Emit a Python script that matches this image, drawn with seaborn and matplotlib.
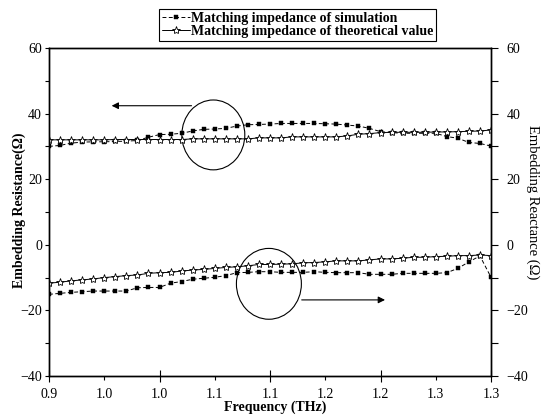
import matplotlib
matplotlib.use("Agg")
import matplotlib.pyplot as plt
from matplotlib.patches import Ellipse
from matplotlib.ticker import MultipleLocator
import seaborn as sns

# ---- data ----
FREQ = [0.90, 0.91, 0.92, 0.93, 0.94, 0.95, 0.96, 0.97, 0.98, 0.99,
        1.00, 1.01, 1.02, 1.03, 1.04, 1.05, 1.06, 1.07, 1.08, 1.09,
        1.10, 1.11, 1.12, 1.13, 1.14, 1.15, 1.16, 1.17, 1.18, 1.19,
        1.20, 1.21, 1.22, 1.23, 1.24, 1.25, 1.26, 1.27, 1.28, 1.29, 1.30]

# embedding resistance (left axis)
RES_SIM = [30.0, 30.3, 31.0, 31.3, 31.4, 31.4, 31.5, 31.6, 31.8, 32.8,
           33.6, 33.7, 34.0, 34.7, 35.2, 35.3, 35.5, 36.2, 36.6, 36.7,
           36.8, 37.0, 37.0, 37.0, 37.0, 36.9, 36.8, 36.5, 36.2, 35.5,
           34.5, 34.2, 34.0, 34.0, 34.0, 34.0, 33.0, 32.5, 31.2, 30.9, 30.1]
RES_THEO = [32.0, 32.0, 32.0, 32.0, 32.0, 32.0, 32.1, 32.1, 32.1, 32.1,
            32.1, 32.1, 32.1, 32.3, 32.3, 32.3, 32.3, 32.3, 32.3, 32.6,
            32.6, 32.6, 32.9, 32.9, 32.9, 32.9, 32.9, 33.2, 33.7, 33.9,
            34.2, 34.3, 34.3, 34.3, 34.3, 34.4, 34.4, 34.5, 34.6, 34.7, 35.0]

# embedding reactance (right axis)
REA_SIM = [-15.1, -14.8, -14.5, -14.3, -14.1, -14.1, -14.1, -14.1, -13.1, -13.0,
           -13.0, -11.7, -11.2, -10.5, -10.2, -9.9, -9.4, -8.5, -8.4, -8.2,
           -8.2, -8.4, -8.4, -8.4, -8.2, -8.4, -8.5, -8.5, -8.5, -9.0,
           -9.0, -9.0, -8.7, -8.7, -8.7, -8.7, -8.5, -7.2, -5.2, -3.4, -9.9]
REA_THEO = [-11.7, -11.4, -11.0, -10.7, -10.4, -10.0, -9.7, -9.4, -9.2, -8.7,
            -8.5, -8.4, -8.0, -7.7, -7.5, -7.2, -6.9, -6.7, -6.4, -6.0,
            -6.0, -5.9, -5.8, -5.5, -5.4, -5.2, -4.9, -4.9, -4.9, -4.6,
            -4.3, -4.3, -4.1, -3.8, -3.8, -3.6, -3.5, -3.3, -3.3, -3.1, -3.3]

X_MAJOR = [0.9, 1.0, 1.1, 1.2, 1.3]
X_MAJOR_LABELS = ["0.9", "1.0", "1.1", "1.2", "1.3"]
X_MINOR = [0.95, 1.05, 1.15, 1.25]
X_MINOR_LABELS = ["1.0", "1.1", "1.2", "1.3"]
Y_TICKS = [-40, -20, 0, 20, 40, 60]

LEG_SIM = "Matching impedance of simulation"
LEG_THEO = "Matching impedance of theoretical value"

# ---- style ----
sns.set_style("ticks")
plt.rcParams["font.family"] = ["Liberation Serif", "DejaVu Serif"]
plt.rcParams.update({"axes.edgecolor": "black", "xtick.color": "black",
                     "ytick.color": "black", "text.color": "black",
                     "axes.labelcolor": "black"})

W, H = 543, 415
fig = plt.figure(figsize=(W / 100, H / 100), dpi=100)
ax = fig.add_axes([49 / W, 1 - 376 / H, 442 / W, 328 / H])
ax2 = ax.twinx()

sim_kw = dict(color="black", lw=0.7, linestyle=(0, (4, 2.5)), marker="s",
              markersize=2.2, markerfacecolor="black", markeredgecolor="black",
              markeredgewidth=0.3)
theo_kw = dict(color="black", lw=0.7, linestyle="-", marker="*", markersize=6,
               markerfacecolor="white", markeredgecolor="black",
               markeredgewidth=0.6)

sns.lineplot(x=FREQ, y=RES_SIM, ax=ax, label=LEG_SIM, **sim_kw)
sns.lineplot(x=FREQ, y=RES_THEO, ax=ax, label=LEG_THEO, **theo_kw)
sns.lineplot(x=FREQ, y=REA_SIM, ax=ax2, **sim_kw)
sns.lineplot(x=FREQ, y=REA_THEO, ax=ax2, **theo_kw)
for a in (ax, ax2):
    if a.get_legend() is not None:
        a.get_legend().remove()

# ---- axes ----
ax.set_xlim(0.9, 1.3)
for a in (ax, ax2):
    a.set_ylim(-40, 60)
    a.set_yticks(Y_TICKS)
    a.yaxis.set_minor_locator(MultipleLocator(10))
ax.set_xticks(X_MAJOR, X_MAJOR_LABELS)
ax.set_xticks(X_MINOR, X_MINOR_LABELS, minor=True)

ax.tick_params(axis="x", which="major", direction="inout", length=8, width=0.8,
               pad=4.5, labelsize=10)
ax.tick_params(axis="x", which="minor", direction="out", length=3, width=0.8,
               pad=5.5, labelsize=10)
ax.tick_params(axis="y", which="both", direction="out", length=3, width=0.8,
               pad=2, labelsize=10)
ax2.tick_params(axis="y", which="both", direction="out", length=5, width=0.8,
                pad=6, labelsize=10)
for a in (ax, ax2):
    for s in a.spines.values():
        s.set_linewidth(1.0)
        s.set_color("black")

ax.set_xlabel("Frequency (THz)", fontsize=10, fontweight="bold")
ax.xaxis.set_label_coords(0.511, -0.075)
ax.set_ylabel("Embedding Resistance(Ω)", fontsize=10, fontweight="bold")
ax.yaxis.set_label_coords(-0.052, 0.506)
ax2.set_ylabel("Embedding Reactance (Ω)", fontsize=10.5, rotation=270, va="center")
ax2.yaxis.set_label_coords(1.095, 0.530)

# ---- annotations: circles and arrows ----
ax.add_patch(Ellipse((1.0487, 33.5), 0.057, 21.3, fill=False, lw=0.8, ec="black"))
ax.add_patch(Ellipse((1.099, -11.9), 0.0588, 21.6, fill=False, lw=0.8, ec="black"))
arrow = dict(arrowstyle="-|>", color="black", lw=0.8, mutation_scale=10,
             shrinkA=0, shrinkB=0)
ax.annotate("", xy=(0.9567, 42.4), xytext=(1.029, 42.4), arrowprops=arrow)
ax.annotate("", xy=(1.2041, -16.8), xytext=(1.1287, -16.8), arrowprops=arrow)

# ---- legend ----
handles, labels = ax.get_legend_handles_labels()
leg = fig.legend(handles, labels, loc="upper left",
                 bbox_to_anchor=(159 / W, 1 - 9 / H), borderaxespad=0,
                 frameon=True, fancybox=False, edgecolor="black", framealpha=1,
                 prop=dict(family="Liberation Serif", weight="bold", size=10),
                 handlelength=2.0, handletextpad=0.1, borderpad=0.2,
                 labelspacing=0.0)
leg.get_frame().set_linewidth(0.8)

fig.savefig("out.png", dpi=100)
